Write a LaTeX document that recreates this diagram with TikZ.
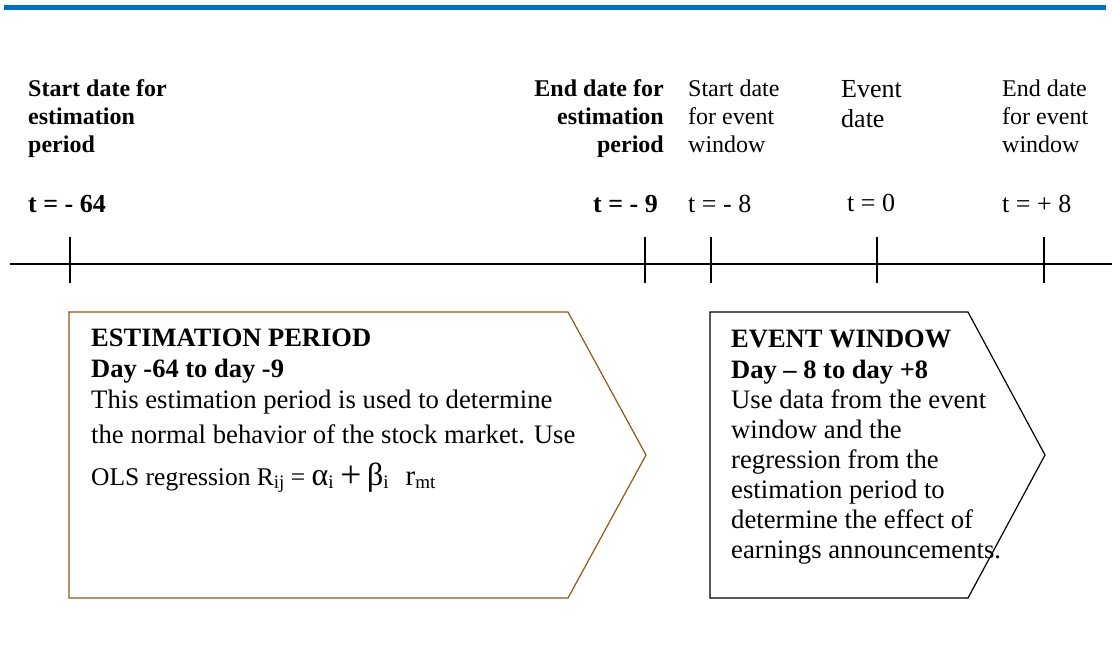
\documentclass[tikz,border=0pt]{standalone}
\usepackage{fontspec}
\setmainfont{Liberation Serif}
\definecolor{topblue}{RGB}{0,112,192}
\definecolor{brownline}{RGB}{152,84,22}
\tikzset{
  lbl/.style={inner sep=0pt, font=\fontsize{24}{28}\selectfont},
  blbl/.style={inner sep=0pt, font=\fontsize{24}{28}\selectfont\bfseries},
  tlbl/.style={inner sep=0pt, font=\fontsize{26}{28}\selectfont},
  btlbl/.style={inner sep=0pt, font=\fontsize{26}{28}\selectfont\bfseries},
  tick/.style={line width=1.4pt},
  boxtxt/.style={inner sep=0pt, anchor=base west, align=left},
}
\newcommand{\sbx}[1]{\raisebox{-0.3ex}{\fontsize{19}{19}\selectfont #1}}
\newcommand{\bigsym}[1]{{\fontsize{32}{32}\selectfont #1}}
\begin{document}
\begin{tikzpicture}[x=1pt,y=-1pt]
\useasboundingbox (0,0) rectangle (1112,645);
% top rule
\draw[topblue, line width=4.5pt] (4,7.5) -- (1106,7.5);
% timeline
\coordinate (tl0) at (10,264);
\coordinate (tl1) at (1112,264);
\draw[line width=1.8pt] (tl0) -- (tl1);
\foreach \n/\x in {a/70,b/645,c/711,d/877,e/1044}{
  \coordinate (\n top) at (\x,237);
  \coordinate (\n bot) at (\x,283);
  \draw[tick] (\n top) -- (\n bot);
}
% top labels (base anchor = baseline of the last line)
\node[blbl, anchor=base west, align=left] (l1) at (28,152) {Start date for\\estimation\\period};
\node[btlbl, anchor=base west] (t1) at (28,212) {t = - 64};
\node[blbl, anchor=base east, align=right] (l2) at (664,152) {End date for\\estimation\\period};
\node[btlbl, anchor=base east] (t2) at (658,212) {t = - 9};
\node[lbl, anchor=base west, align=left] (l3) at (688,152) {Start date\\for event\\window};
\node[tlbl, anchor=base west] (t3) at (688,212) {t = - 8};
\node[inner sep=0pt, anchor=base west, align=left, font=\fontsize{26}{30}\selectfont] (l4) at (841,127) {Event\\date};
\node[tlbl, anchor=base west] (t4) at (847,211) {t = 0};
\node[lbl, anchor=base west, align=left] (l5) at (1002,152) {End date\\for event\\window};
\node[tlbl, anchor=base west] (t5) at (1002,212) {t = + 8};
% estimation box
\draw[brownline, line width=1.2pt] (69,312) coordinate (e1) -- (568,312) coordinate (e2) -- (646,455) coordinate (e3) -- (568,598) coordinate (e4) -- (69,598) coordinate (e5) -- cycle;
\node[boxtxt, font=\fontsize{26.5}{30.5}\selectfont\bfseries] (eh) at (91,377) {ESTIMATION PERIOD\\Day -64 to day -9};
\node[boxtxt, font=\fontsize{26.7}{34.5}\selectfont] (eb) at (91,443) {This estimation period is used to determine\\the normal behavior of the stock market. Use};
\node[boxtxt, font=\fontsize{25.5}{30}\selectfont] (eo) at (91,485) {OLS regression R\sbx{ij} = \bigsym{α}\sbx{i}\hspace{7pt}\raisebox{-2.5pt}{\fontsize{38}{38}\selectfont +}\hspace{5pt}\bigsym{β}\sbx{i}\hspace{17pt}{\fontsize{29}{29}\selectfont r}\sbx{mt}};
% event box
\draw[line width=1.2pt] (710,312) coordinate (v1) -- (968,312) coordinate (v2) -- (1045,455) coordinate (v3) -- (968,598) coordinate (v4) -- (710,598) coordinate (v5) -- cycle;
\node[boxtxt, font=\fontsize{26.5}{31}\selectfont\bfseries] (vh) at (731,378) {EVENT WINDOW\\Day – 8 to day +8};
\node[boxtxt, font=\fontsize{26.7}{30}\selectfont] (vb) at (731,558) {Use data from the event\\window and the\\regression from the\\estimation period to\\determine the effect of\\earnings announcements.};
\end{tikzpicture}
\end{document}
